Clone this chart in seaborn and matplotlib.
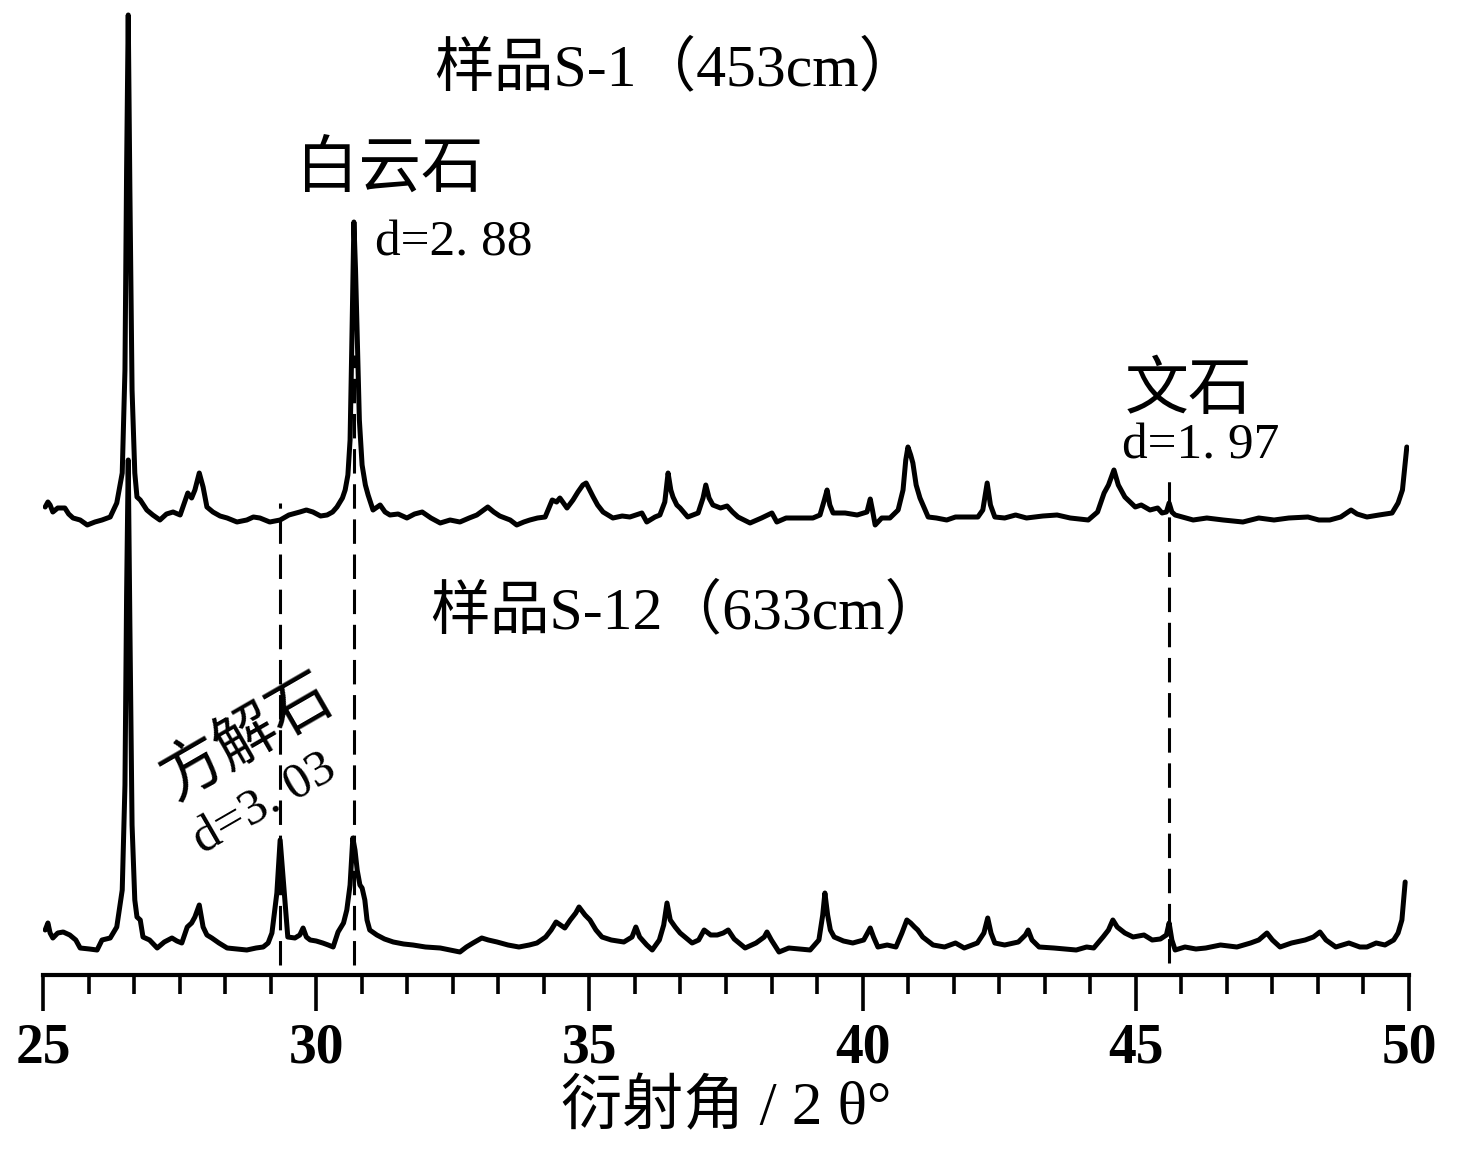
import pandas as pd
import matplotlib
matplotlib.use("Agg")
import matplotlib.pyplot as plt
from matplotlib.ticker import MultipleLocator, AutoMinorLocator
import seaborn as sns

# XRD pattern, sample S-1 (453cm), intensity above its own baseline (a.u.)
top_2theta = [
    25.04, 25.09, 25.13, 25.18, 25.27, 25.40, 25.47, 25.55, 25.68, 25.81, 25.95, 26.08, 26.23, 26.35,
    26.45, 26.50, 26.53, 26.56, 26.59, 26.63, 26.68, 26.72, 26.78, 26.90, 27.01, 27.14, 27.26, 27.38,
    27.51, 27.65, 27.72, 27.78, 27.86, 27.93, 28.00, 28.11, 28.24, 28.37, 28.55, 28.73, 28.85, 28.97,
    29.15, 29.34, 29.50, 29.70, 29.82, 29.94, 30.08, 30.20, 30.30, 30.38, 30.48, 30.53, 30.58, 30.62,
    30.65, 30.69, 30.72, 30.75, 30.79, 30.84, 30.90, 30.95, 31.04, 31.17, 31.26, 31.35, 31.50, 31.66,
    31.80, 31.94, 32.10, 32.27, 32.45, 32.63, 32.80, 32.94, 33.14, 33.25, 33.36, 33.55, 33.67, 33.80,
    33.91, 34.05, 34.19, 34.32, 34.40, 34.46, 34.59, 34.70, 34.79, 34.88, 34.94, 35.07, 35.15, 35.25,
    35.43, 35.60, 35.74, 35.96, 36.05, 36.20, 36.29, 36.38, 36.44, 36.49, 36.53, 36.60, 36.66, 36.80,
    36.99, 37.08, 37.13, 37.19, 37.26, 37.40, 37.52, 37.62, 37.72, 37.94, 38.15, 38.34, 38.43, 38.60,
    38.80, 39.09, 39.22, 39.30, 39.35, 39.40, 39.46, 39.68, 39.90, 40.08, 40.14, 40.18, 40.23, 40.35,
    40.50, 40.65, 40.74, 40.79, 40.83, 40.88, 40.92, 40.98, 41.05, 41.20, 41.35, 41.54, 41.70, 41.84,
    42.11, 42.20, 42.28, 42.34, 42.42, 42.60, 42.80, 43.00, 43.30, 43.56, 43.80, 44.13, 44.30, 44.42,
    44.50, 44.60, 44.68, 44.80, 44.99, 45.10, 45.26, 45.40, 45.48, 45.56, 45.61, 45.66, 45.72, 46.05,
    46.30, 46.60, 46.96, 47.25, 47.53, 47.80, 48.15, 48.35, 48.55, 48.75, 48.94, 49.05, 49.23, 49.45,
    49.69, 49.80, 49.88, 49.96,
]
top_intensity = [
    13, 18, 15, 8, 12, 12, 6, 2, 0, -5, -2, 0, 3, 17,
    47, 150, 350, 505, 330, 130, 47, 23, 20, 10, 5, 0, 6, 8,
    5, 27, 22, 30, 47, 33, 13, 8, 4, 2, -2, 0, 3, 2,
    -2, 0, 5, 8, 10, 8, 4, 5, 8, 13, 22, 30, 45, 80,
    170, 298, 250, 185, 100, 55, 35, 25, 10, 15, 8, 5, 6, 2,
    6, 8, 2, -3, 0, -2, 2, 5, 13, 8, 4, 0, -5, -2,
    0, 2, 3, 20, 18, 22, 12, 20, 28, 35, 37, 23, 15, 8,
    2, 4, 3, 7, -2, 3, 5, 18, 47, 30, 23, 15, 12, 3,
    7, 22, 35, 22, 15, 12, 14, 8, 3, -3, 2, 7, -2, 2,
    2, 2, 5, 20, 30, 15, 7, 7, 5, 8, 21, 10, -5, 2,
    2, 10, 30, 60, 73, 65, 57, 35, 22, 3, 2, 0, 3, 3,
    3, 10, 37, 15, 3, 2, 5, 2, 4, 5, 2, 0, 8, 27,
    35, 50, 35, 23, 13, 15, 10, 12, 7, 8, 17, 8, 5, 0,
    2, 0, -2, 2, 0, 2, 3, 0, 0, 3, 10, 6, 3, 5,
    7, 17, 30, 73,
]

# XRD pattern, sample S-12 (633cm)
bottom_2theta = [
    25.04, 25.09, 25.13, 25.18, 25.27, 25.37, 25.49, 25.60, 25.68, 25.85, 25.99, 26.08, 26.23, 26.35,
    26.45, 26.50, 26.53, 26.56, 26.59, 26.63, 26.68, 26.72, 26.78, 26.83, 26.95, 27.09, 27.22, 27.36,
    27.45, 27.54, 27.64, 27.72, 27.78, 27.86, 27.93, 28.00, 28.09, 28.22, 28.37, 28.55, 28.73, 28.90,
    29.03, 29.12, 29.19, 29.28, 29.34, 29.39, 29.43, 29.48, 29.61, 29.70, 29.76, 29.82, 29.89, 30.00,
    30.12, 30.22, 30.31, 30.40, 30.50, 30.56, 30.62, 30.67, 30.71, 30.75, 30.80, 30.84, 30.89, 30.93,
    30.98, 31.11, 31.25, 31.41, 31.60, 31.77, 32.00, 32.27, 32.45, 32.63, 32.75, 32.87, 33.03, 33.15,
    33.31, 33.51, 33.71, 33.90, 34.04, 34.20, 34.30, 34.39, 34.55, 34.65, 34.75, 34.81, 34.92, 35.01,
    35.12, 35.23, 35.40, 35.63, 35.78, 35.85, 35.92, 36.05, 36.15, 36.28, 36.36, 36.42, 36.48, 36.57,
    36.66, 36.88, 37.00, 37.10, 37.22, 37.34, 37.45, 37.54, 37.65, 37.85, 38.05, 38.20, 38.25, 38.33,
    38.47, 38.65, 38.85, 39.04, 39.20, 39.27, 39.31, 39.36, 39.41, 39.48, 39.65, 39.82, 40.02, 40.14,
    40.20, 40.28, 40.45, 40.61, 40.72, 40.81, 40.88, 40.95, 41.01, 41.10, 41.29, 41.50, 41.70, 41.86,
    42.10, 42.22, 42.29, 42.35, 42.42, 42.60, 42.85, 42.98, 43.03, 43.10, 43.23, 43.50, 43.70, 43.91,
    44.10, 44.23, 44.40, 44.50, 44.58, 44.66, 44.80, 44.95, 45.15, 45.30, 45.45, 45.56, 45.61, 45.66,
    45.72, 45.90, 46.10, 46.28, 46.55, 46.85, 47.10, 47.25, 47.40, 47.50, 47.64, 47.85, 48.10, 48.25,
    48.37, 48.48, 48.66, 48.90, 49.10, 49.23, 49.40, 49.56, 49.72, 49.80, 49.87, 49.93,
]
bottom_intensity = [
    15, 22, 12, 7, 12, 13, 10, 5, -3, -4, -5, 5, 7, 18,
    55, 160, 350, 485, 320, 120, 45, 28, 25, 8, 5, -3, 3, 7,
    4, 2, 18, 22, 28, 40, 18, 10, 7, 2, -3, -4, -5, -3,
    -2, 2, 12, 52, 105, 70, 42, 8, 7, 10, 17, 8, 5, 4,
    2, 0, -2, 13, 22, 35, 60, 107, 95, 75, 60, 57, 45, 25,
    15, 10, 6, 3, 1, 0, -2, -3, -5, -7, -2, 2, 7, 5,
    3, 0, -2, 0, 2, 8, 15, 23, 17, 25, 32, 38, 30, 25,
    15, 8, 5, 3, 8, 18, 8, 0, -5, 5, 20, 42, 25, 18,
    12, 2, 5, 15, 10, 10, 12, 15, 6, -3, 2, 8, 13, 5,
    -7, -3, -4, -5, 5, 30, 52, 30, 15, 8, 4, 2, 5, 17,
    8, -2, 0, -2, 12, 25, 22, 18, 15, 8, 0, -2, 2, -3,
    2, 12, 27, 12, 2, 0, 3, 10, 15, 5, -2, -3, -4, -5,
    -2, -3, 8, 15, 25, 18, 12, 8, 10, 5, 6, 10, 22, 5,
    -5, -2, -4, -3, 0, -2, 2, 5, 12, 5, -2, 2, 5, 8,
    13, 5, -2, 2, -2, -2, 2, 0, 5, 12, 25, 63,
]

sample_names = ["样品S-1（453cm）", "样品S-12（633cm）"]
mineral_labels = ["方解石", "白云石", "文石"]
d_labels = ["d=3. 03", "d=2. 88", "d=1. 97"]
mineral_2theta = [29.34, 30.69, 45.61]

# vertical stacking of the two patterns
TOP_SHIFT = 455
BOTTOM_SHIFT = 30

df = pd.concat([
    pd.DataFrame({"two_theta": top_2theta, "intensity": top_intensity,
                  "sample": sample_names[0], "shift": TOP_SHIFT}),
    pd.DataFrame({"two_theta": bottom_2theta, "intensity": bottom_intensity,
                  "sample": sample_names[1], "shift": BOTTOM_SHIFT}),
])
df["plot_y"] = df["intensity"] + df["shift"]

sns.set_theme(style="ticks")
plt.rcParams["font.family"] = ["Liberation Serif", "Noto Sans CJK SC"]
plt.rcParams["text.color"] = "black"
plt.rcParams["axes.edgecolor"] = "black"
plt.rcParams["axes.labelcolor"] = "black"
plt.rcParams["xtick.color"] = "black"
txt_font = ["Liberation Serif", "Noto Sans CJK SC"]

fig = plt.figure(figsize=(14.71, 11.6), dpi=100)
ax = fig.add_axes([43 / 1471, 185 / 1160, 1366 / 1471, 975 / 1160])

sns.lineplot(data=df, x="two_theta", y="plot_y", hue="sample",
             palette=["black", "black"], linewidth=3.6, legend=False,
             estimator=None, ax=ax)

# dashed marker lines for the mineral peaks
dash = (0, (8, 3.5))
ax.vlines(mineral_2theta[0], 10, 472, colors="black", linestyles=dash, linewidth=2.2)
ax.vlines(mineral_2theta[1], 10, 620, colors="black", linestyles=dash, linewidth=2.2)
ax.vlines(mineral_2theta[2], 12, 500, colors="black", linestyles=dash, linewidth=2.2)

ax.set_xlim(25, 50)
ax.set_ylim(0, 975)

# labels
ax.text(36.60, 905, sample_names[0], ha="center", va="center", fontsize=43, family=txt_font)
ax.text(36.80, 362, sample_names[1], ha="center", va="center", fontsize=43, family=txt_font)
ax.text(31.35, 803, mineral_labels[1], ha="center", va="center", fontsize=45, family=txt_font)
ax.text(31.08, 732, d_labels[1], ha="left", va="center", fontsize=37, family=txt_font)
ax.text(45.97, 582, mineral_labels[2], ha="center", va="center", fontsize=46, family=txt_font)
ax.text(44.75, 529, d_labels[2], ha="left", va="center", fontsize=37, family=txt_font)
ax.text(28.75, 235, mineral_labels[0], ha="center", va="center", fontsize=45,
        rotation=30, rotation_mode="anchor", family=txt_font)
ax.text(29.06, 170, d_labels[0], ha="center", va="center", fontsize=37,
        rotation=30, rotation_mode="anchor", family=txt_font)

# axes styling
sns.despine(ax=ax, left=True)
ax.set_yticks([])
ax.set_ylabel("")
ax.spines["bottom"].set_linewidth(3)
ax.xaxis.set_major_locator(MultipleLocator(5))
ax.xaxis.set_minor_locator(AutoMinorLocator(6))
ax.tick_params(axis="x", which="major", direction="out", length=26, width=2.6, pad=8,
               labelsize=40)
ax.tick_params(axis="x", which="minor", direction="out", length=14, width=2.6)
for lab in ax.get_xticklabels():
    lab.set_fontweight("bold")
ax.set_xlabel("衍射角 / 2 θ°", fontsize=44, labelpad=4, family=txt_font)

fig.savefig("out.png", dpi=100)
plt.close(fig)
